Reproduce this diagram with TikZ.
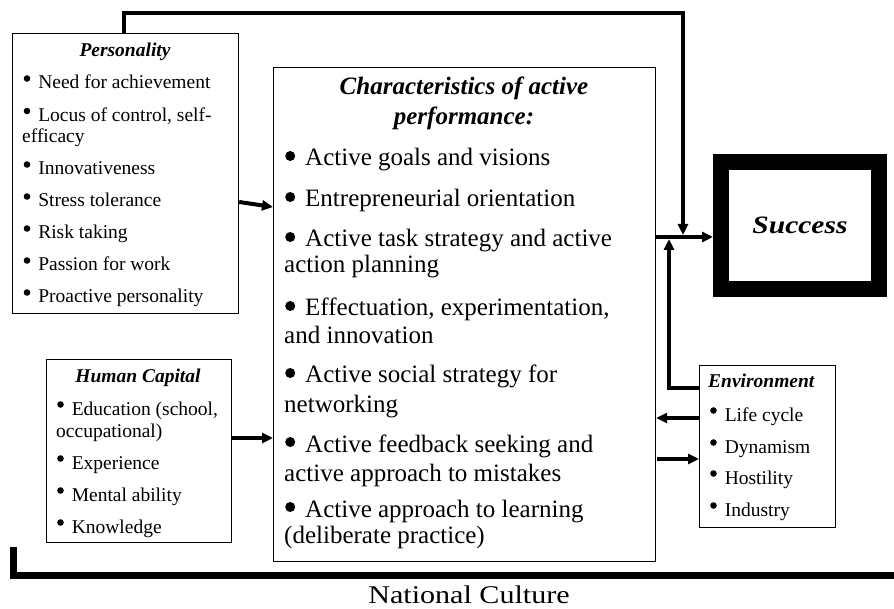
\documentclass[tikz,border=0pt]{standalone}
\usepackage{fontspec}
\setmainfont{Liberation Serif}
\usetikzlibrary{arrows.meta}
\newcommand\fsmall{\fontsize{19.5}{22}\selectfont}
\newcommand\fbig{\fontsize{25}{28}\selectfont}
\newcommand\pbul{\tikz[baseline=0pt,x=1pt,y=1pt]\fill (3.3pt,10.5pt) circle (3.3pt);\hspace{8pt}}
\newcommand\cbul{\tikz[baseline=0pt,x=1pt,y=1pt]\fill (5pt,10pt) circle (5pt);\hspace{10pt}}
\tikzset{
  box/.style={draw=black, line width=1.2pt, fill=none, inner sep=0pt, anchor=north west},
  stxt/.style={anchor=base west, inner sep=0pt, font=\fsmall},
  stitle/.style={anchor=base, inner sep=0pt, font=\fsmall\bfseries\itshape},
  btxt/.style={anchor=base west, inner sep=0pt, font=\fbig},
  btitle/.style={anchor=base, inner sep=0pt, font=\fbig\bfseries\itshape},
  conn/.style={line width=4pt, line join=miter, -{Triangle[length=11pt,width=10pt]}},
}
\begin{document}
\begin{tikzpicture}[x=1pt,y=-1pt]
\useasboundingbox (0,0) rectangle (894,609);

% boxes
\node[box, minimum width=226pt, minimum height=280pt] (pers) at (12,33) {};
\node[box, minimum width=185pt, minimum height=183pt] (hc) at (46,359) {};
\node[box, minimum width=382pt, minimum height=494pt] (cen) at (273,67) {};
\node[box, minimum width=136pt, minimum height=162pt] (env) at (699,365) {};
\node[draw=black, line width=16pt, minimum width=158pt, minimum height=127pt, inner sep=0pt,
      font=\fontsize{25}{30}\selectfont\bfseries\itshape] (succ) at (800,225.5)
      {\scalebox{1.18}[1]{Success}};

% Personality text
\node[stitle] (pt) at (125,57) {Personality};
\node[stxt] (p1) at (23.5,89) {\pbul Need for achievement};
\node[stxt] (p2) at (23.5,121.5) {\pbul Locus of control, self-};
\node[stxt] (p2b) at (22,143) {efficacy};
\node[stxt] (p3) at (23.5,175) {\pbul Innovativeness};
\node[stxt] (p4) at (23.5,207) {\pbul Stress tolerance};
\node[stxt] (p5) at (23.5,239) {\pbul Risk taking};
\node[stxt] (p6) at (23.5,271) {\pbul Passion for work};
\node[stxt] (p7) at (23.5,303) {\pbul Proactive personality};

% Human capital text
\node[stitle] (ht) at (138,383) {Human Capital};
\node[stxt] (h1) at (57,415) {\pbul Education (school,};
\node[stxt] (h1b) at (56,437) {occupational)};
\node[stxt] (h2) at (57,469) {\pbul Experience};
\node[stxt] (h3) at (57,501) {\pbul Mental ability};
\node[stxt] (h4) at (57,533) {\pbul Knowledge};

% Environment text
\node[stitle, anchor=base west] (et) at (708,388) {Environment};
\node[stxt] (e1) at (710,421) {\pbul Life cycle};
\node[stxt] (e2) at (710,453) {\pbul Dynamism};
\node[stxt] (e3) at (710,484) {\pbul Hostility};
\node[stxt] (e4) at (710,516) {\pbul Industry};

% Central text
\node[btitle] (ct1) at (464,95) {Characteristics of active};
\node[btitle] (ct2) at (464,125) {performance:};
\node[btxt] (c1) at (285,166) {\cbul Active goals and visions};
\node[btxt] (c2) at (285,207) {\cbul Entrepreneurial orientation};
\node[btxt] (c3) at (285,247) {\cbul Active task strategy and active};
\node[btxt] (c3b) at (284,273) {action planning};
\node[btxt] (c4) at (285,316) {\cbul Effectuation, experimentation,};
\node[btxt] (c4b) at (284,344) {and innovation};
\node[btxt] (c5) at (285,383) {\cbul Active social strategy for};
\node[btxt] (c5b) at (284,412) {networking};
\node[btxt] (c6) at (285,452) {\cbul Active feedback seeking and};
\node[btxt] (c6b) at (284,481) {active approach to mistakes};
\node[btxt] (c7) at (285,517) {\cbul Active approach to learning};
\node[btxt] (c7b) at (284,543) {(deliberate practice)};

% National culture
\node[anchor=base, inner sep=0pt, font=\fontsize{25.5}{30}\selectfont] (nc) at (469,603)
  {\scalebox{1.18}[1]{National Culture}};

% junction coordinates
\coordinate (jtop) at (683,235);
\coordinate (jbot) at (669,239);
\coordinate (tl) at (124,13);
\coordinate (tr) at (683,13);
\coordinate (eb) at (669,388);
\coordinate (nca) at (13,547);
\coordinate (ncb) at (13,575);
\coordinate (ncc) at (894,575);

% connectors
\draw[conn] (pers.east |- 0,202) -- (cen.west |- 0,207);
\draw[conn] (hc.east |- 0,438) -- (cen.west |- 0,438);
\draw[conn] (cen.east |- 0,237) -- (succ.west |- 0,237);
\draw[conn] (pers.north -| tl) -- (tl) -- (tr) -- (jtop);
\draw[conn] (env.west |- eb) -- (eb) -- (jbot);
\draw[conn] (env.west |- 0,418) -- (cen.east |- 0,418);
\draw[conn] (657,459) -- (env.west |- 0,459);
\draw[line width=7pt, line join=miter] (nca) -- (ncb) -- (ncc);
\end{tikzpicture}
\end{document}
